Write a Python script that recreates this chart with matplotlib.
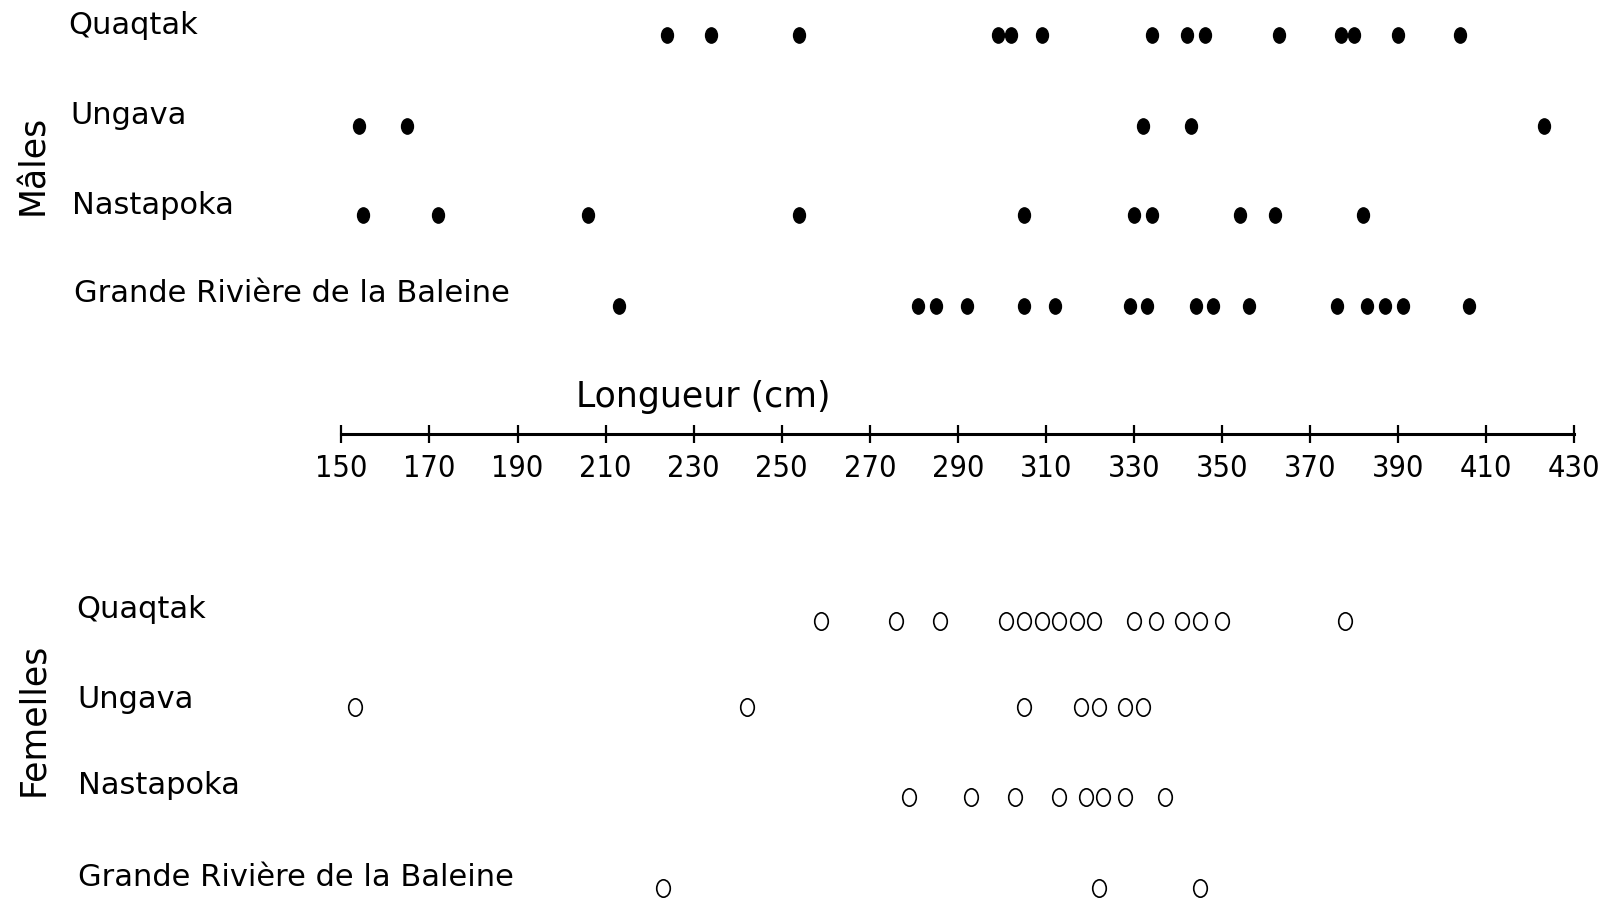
import matplotlib
matplotlib.use("Agg")
import matplotlib.pyplot as plt
from matplotlib.path import Path
from matplotlib.transforms import Affine2D

# longueurs (cm)
regions = ["Quaqtak", "Ungava", "Nastapoka", "Grande Rivière de la Baleine"]

males = [
    [224, 234, 254, 299, 302, 309, 334, 342, 346, 363, 377, 380, 390, 404],
    [154, 165, 332, 343, 423],
    [155, 172, 206, 254, 305, 330, 334, 354, 362, 382],
    [213, 281, 285, 292, 305, 312, 329, 333, 344, 348, 356, 376, 383, 387, 391, 406],
]
femelles = [
    [259, 276, 286, 301, 305, 309, 313, 317, 321, 330, 335, 341, 345, 350, 378],
    [153, 242, 305, 318, 322, 328, 332],
    [279, 293, 303, 313, 319, 323, 328, 337],
    [223, 322, 345],
]
ticks = list(range(150, 431, 20))

W, H = 1622, 899
fig = plt.figure(figsize=(W / 100, H / 100), dpi=100)
ax = fig.add_axes([0, 0, 1, 1])

# x en cm, y en pixels (150 cm -> 341 px, 430 cm -> 1574 px)
pxcm = (1574.4 - 341.4) / 280
x0 = 150 - 341.4 / pxcm
ax.set_xlim(x0, x0 + W / pxcm)
ax.set_ylim(H, 0)

oval = Path.unit_circle().transformed(Affine2D().scale(0.78, 1.0))

rows_m = [35, 126, 215, 306]
rows_f = [621, 707, 797, 888]
for vals, y in zip(males, rows_m):
    ax.plot(vals, [y] * len(vals), ls="none", marker=oval, ms=11,
            color="black")
for vals, y in zip(femelles, rows_f):
    ax.plot(vals, [y] * len(vals), ls="none", marker=oval, ms=12.5,
            mfc="white", mec="black", mew=1.2)

# etiquettes des lignes
lab_m = [(68, 25), (70, 116), (72, 206), (74, 293)]
lab_f = [(76, 610), (77, 699), (78, 785), (78, 878)]
for name, (x, y) in zip(regions, lab_m):
    fig.text(x / W, 1 - y / H, name, fontsize=22, va="center", ha="left")
for name, (x, y) in zip(regions, lab_f):
    fig.text(x / W, 1 - y / H, name, fontsize=22, va="center", ha="left")

fig.text(33 / W, 1 - 165 / H, "Mâles", fontsize=25, rotation=90,
         va="center", ha="center")
fig.text(33 / W, 1 - 719 / H, "Femelles", fontsize=25, rotation=90,
         va="center", ha="center")
fig.text(703 / W, 1 - 397 / H, "Longueur (cm)", fontsize=25,
         va="center", ha="center")

# axe des longueurs
for s in ["top", "left", "right"]:
    ax.spines[s].set_visible(False)
ax.spines["bottom"].set_position(("data", 434))
ax.spines["bottom"].set_bounds(150, 430)
ax.spines["bottom"].set_linewidth(2.2)
ax.set_xticks(ticks)
ax.set_xticklabels([str(t) for t in ticks], fontstretch="condensed")
ax.tick_params(axis="x", direction="inout", length=13, width=1.6,
               labelsize=22, pad=8)
ax.yaxis.set_visible(False)
ax.patch.set_alpha(0)

fig.savefig("out.png", dpi=100)
